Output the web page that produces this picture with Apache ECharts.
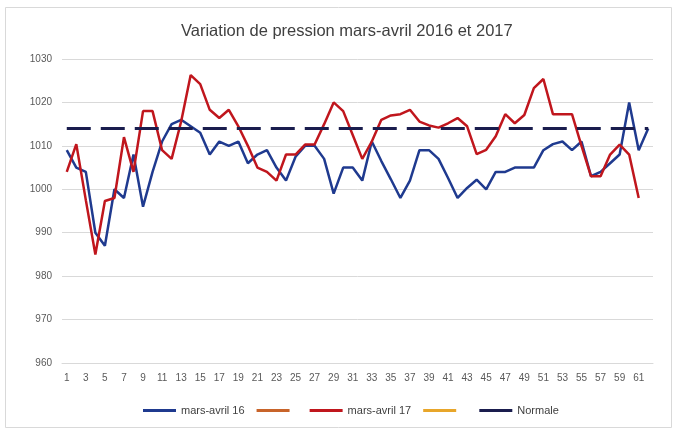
<!DOCTYPE html>
<html><head><meta charset="utf-8">
<script src="https://cdn.jsdelivr.net/npm/echarts@6/dist/echarts.min.js"></script>
<style>html,body{margin:0;padding:0;background:#fff}#c{width:678px;height:432px}</style>
</head><body><div id="c"></div>
<script>
const days = Array.from({length: 62}, (_, i) => String(i + 1));
const pression2016 = [1009,1005,1004,990,987,1000,998,1008,996,1004,1011,1015,1016,1014.5,1013,1008,1011,1010,1011,1006,1008,1009,1005,1002,1007.5,1010,1010,1007,999,1005,1005,1002,1011,1006.5,1002.3,998,1002,1009,1009,1007,1002.6,998,1000.3,1002.2,1000,1004,1004,1005,1005,1005,1009,1010.4,1011,1009,1011,1003,1004,1006,1008,1020,1009,1014];
const pression2017 = [1004,1010.4,997.5,985,997.3,998,1012,1004,1018,1018,1009,1007,1015.6,1026.3,1024.2,1018.3,1016.4,1018.3,1014.5,1010,1005,1004,1002,1008,1008,1010.3,1010.3,1015,1020,1018,1012.5,1007,1011,1016,1017,1017.3,1018.3,1015.6,1014.7,1014.2,1015.2,1016.4,1014.5,1008.1,1009.1,1012.2,1017.3,1015.2,1017.1,1023.3,1025.4,1017.3,1017.3,1017.3,1010,1003,1003,1008,1010.3,1008,998];
const normale = days.map(() => 1014);
const seriesNames = ['mars-avril 16', ' ', 'mars-avril 17', '  ', 'Normale'];
const yTicks = {min: 960, max: 1030, step: 10};

const chart = echarts.init(document.getElementById('c'), null, {renderer: 'canvas'});
const font = 'Liberation Sans, Arial, sans-serif';
chart.setOption({
  backgroundColor: '#fff',
  animation: false,
  title: {
    text: 'Variation de pression mars-avril 2016 et 2017',
    left: 176, top: 18,
    textStyle: {fontFamily: font, fontSize: 16.5, fontWeight: 'normal', color: '#404040'}
  },
  legend: {
    data: seriesNames,
    bottom: 11, left: 138,
    itemWidth: 33, itemHeight: 3, itemGap: 12,
    icon: 'rect',
    textStyle: {fontFamily: font, fontSize: 11, color: '#404040'}
  },
  graphic: [{
    type: 'rect', shape: {x: 5.5, y: 7.5, width: 666, height: 420},
    style: {fill: 'none', stroke: '#D9D9D9', lineWidth: 1}, z: -1
  }],
  grid: {left: 62, right: 25, top: 59, bottom: 69},
  xAxis: {
    type: 'category', data: days, boundaryGap: true,
    axisLine: {lineStyle: {color: '#D9D9D9'}},
    axisTick: {show: false},
    axisLabel: {interval: 1, fontFamily: font, fontSize: 10, color: '#595959', margin: 10}
  },
  yAxis: {
    type: 'value', min: yTicks.min, max: yTicks.max, interval: yTicks.step,
    axisLine: {show: false}, axisTick: {show: false},
    splitLine: {lineStyle: {color: '#D9D9D9', width: 1}},
    axisLabel: {fontFamily: font, fontSize: 10, color: '#595959', margin: 10,
      formatter: v => String(v)}
  },
  series: [
    {name: seriesNames[0], type: 'line', data: pression2016, symbol: 'none', color: '#1F3A8F',
     lineStyle: {width: 2.5, color: '#1F3A8F'}, z: 2},
    {name: seriesNames[1], type: 'line', data: [], symbol: 'none', color: '#C8642A',
     lineStyle: {width: 2.5}},
    {name: seriesNames[2], type: 'line', data: pression2017, symbol: 'none', color: '#C0161D',
     lineStyle: {width: 2.5, color: '#C0161D'}, z: 3},
    {name: seriesNames[3], type: 'line', data: [], symbol: 'none', color: '#E8A62A',
     lineStyle: {width: 2.5}},
    {name: seriesNames[4], type: 'line', data: normale, symbol: 'none', color: '#1A1D4E',
     lineStyle: {width: 3, type: [24, 10], color: '#1A1D4E'}, z: 4}
  ]
});
</script></body></html>
